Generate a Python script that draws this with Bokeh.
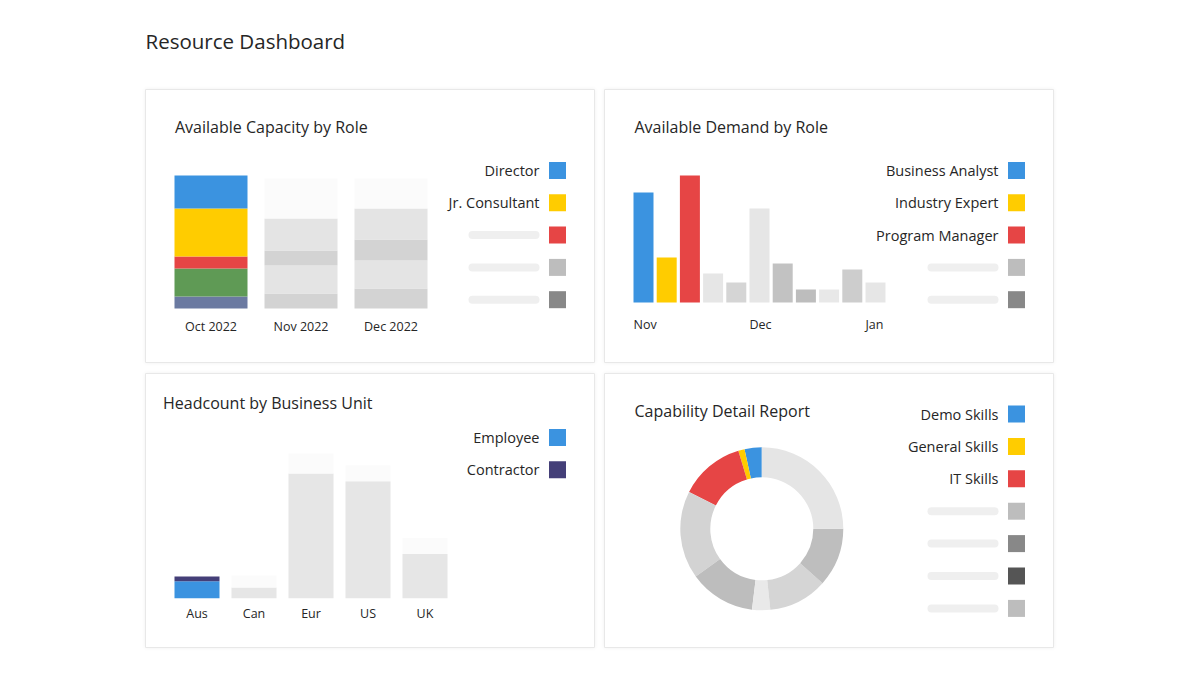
import numpy as np
from bokeh.plotting import figure
from bokeh.models import Range1d, ColumnDataSource
from bokeh.layouts import column, row
from bokeh.embed import file_html
from bokeh.resources import INLINE
from bokeh.core.properties import value

FONT = "Open Sans"
TXT = "#262626"

# ------------------------------------------------------------------ data
page_title = "Resource Dashboard"

# Card 1 - Available Capacity by Role (stack order bottom -> top)
cap_title = "Available Capacity by Role"
cap_months = ["Oct 2022", "Nov 2022", "Dec 2022"]
cap_role5 = [12, 15, 20]
cap_role4 = [28, 28, 28]
cap_role3 = [12, 15, 21]
cap_jr_consultant = [48, 32, 31]
cap_director = [33, 40, 30]
cap_active_colors = ["#6b7aa1", "#5f9a55", "#e64545", "#ffcc00", "#3b93e0"]
cap_faded_colors = ["#d3d3d3", "#e4e4e4", "#d3d3d3", "#e4e4e4", "#fbfbfb"]
cap_highlight = [True, False, False]
cap_legend_labels = ["Director", "Jr. Consultant", "", "", ""]
cap_legend_colors = ["#3b93e0", "#ffcc00", "#e64545", "#bdbdbd", "#888888"]

# Card 2 - Available Demand by Role (weekly bars)
dem_title = "Available Demand by Role"
dem_values = [110, 45, 127, 29, 20, 94, 39, 13, 13, 33, 20]
dem_colors = ["#3b93e0", "#ffcc00", "#e64545", "#e6e6e6", "#d5d5d5", "#e6e6e6",
              "#c2c2c2", "#bdbdbd", "#e8e8e8", "#cdcdcd", "#e6e6e6"]
dem_tick_index = [0, 5, 10]
dem_tick_labels = ["Nov", "Dec", "Jan"]
dem_legend_labels = ["Business Analyst", "Industry Expert", "Program Manager", "", ""]
dem_legend_colors = ["#3b93e0", "#ffcc00", "#e64545", "#bdbdbd", "#888888"]

# Card 3 - Headcount by Business Unit
hc_title = "Headcount by Business Unit"
hc_units = ["Aus", "Can", "Eur", "US", "UK"]
hc_employee = [17, 10.7, 124.6, 117, 44.3]
hc_contractor = [4.7, 12, 20, 16, 16]
hc_highlight = [True, False, False, False, False]
hc_legend_labels = ["Employee", "Contractor"]
hc_legend_colors = ["#3b93e0", "#443f78"]

# Card 4 - Capability Detail Report (donut, anticlockwise from 12 o'clock)
cdr_title = "Capability Detail Report"
cdr_shares = [3.4, 1.25, 12.9, 17.4, 13.1, 3.6, 11.7, 11.6, 25.0]
cdr_colors = ["#3b93e0", "#ffcc00", "#e64545", "#d3d3d3", "#bdbdbd",
              "#e9e9e9", "#d5d5d5", "#bebebe", "#e5e5e5"]
cdr_legend_labels = ["Demo Skills", "General Skills", "IT Skills", "", "", "", ""]
cdr_legend_colors = ["#3b93e0", "#ffcc00", "#e64545", "#bdbdbd", "#888888", "#555555", "#bdbdbd"]


# ------------------------------------------------------------------ helpers
def card(w, h, xr, yr):
    p = figure(width=w, height=h, x_range=xr, y_range=yr, output_backend="svg",
               toolbar_location=None, x_axis_type=None, y_axis_type=None,
               min_border=0, background_fill_color="white", border_fill_color="white",
               outline_line_color="#e8e8e8", outline_line_width=1,
               styles={"box-shadow": "0 0 4px rgba(0,0,0,0.06)"})
    p.xgrid.visible = False
    p.ygrid.visible = False
    p.extra_x_ranges = {"px": Range1d(0, w)}
    p.extra_y_ranges = {"px": Range1d(h, 0)}
    return p


def add_text(p, x, y, txt, size, align="left", xr="px", yr="px"):
    p.text(x=x, y=y, text=txt, x_range_name=xr, y_range_name=yr,
           text_font=value(FONT), text_font_size=size, text_color=TXT,
           text_align=align, text_baseline="middle")


def add_legend(p, labels, colors, y0, step, right=394, sw_x=412, sw=17, pill_w=71):
    ys = [y0 + i * step for i in range(len(labels))]
    named = [i for i, l in enumerate(labels) if l]
    blank = [i for i, l in enumerate(labels) if not l]
    if named:
        add_text(p, [right] * len(named), [ys[i] for i in named],
                 [labels[i] for i in named], "14.5px", align="right")
    if blank:
        p.segment(x0=[right - pill_w + 4] * len(blank), x1=[right - 4] * len(blank),
                  y0=[ys[i] for i in blank], y1=[ys[i] for i in blank],
                  line_width=8, line_cap="round", line_color="#efefef",
                  x_range_name="px", y_range_name="px")
    p.rect(x=[sw_x] * len(labels), y=ys, width=sw, height=sw, fill_color=colors,
           line_color=None, x_range_name="px", y_range_name="px")


# ------------------------------------------------------------------ title strip
tp = figure(width=909, height=79, x_range=Range1d(0, 909), y_range=Range1d(79, 0),
            output_backend="svg", toolbar_location=None, x_axis_type=None, y_axis_type=None,
            min_border=0, outline_line_color=None)
tp.xgrid.visible = False
tp.ygrid.visible = False
tp.text(x=[0], y=[40.5], text=[page_title], text_font=value(FONT), text_font_size="20.5px",
        text_color=TXT, text_align="left", text_baseline="middle")

# ------------------------------------------------------------------ card 1
W, H1, H2 = 450, 274, 275
l1, s1, base1 = 65.5, 90.0, 55
p1 = card(W, H1, Range1d(-l1 / s1, (W - l1) / s1), Range1d(-base1, H1 - base1))
stack = [cap_role5, cap_role4, cap_role3, cap_jr_consultant, cap_director]
xs, bots, tops, cols = [], [], [], []
for m in range(len(cap_months)):
    acc = 0
    for k, series in enumerate(stack):
        xs.append(m)
        bots.append(acc)
        acc += series[m]
        tops.append(acc)
        cols.append(cap_active_colors[k] if cap_highlight[m] else cap_faded_colors[k])
p1.vbar(x=xs, bottom=bots, top=tops, width=73 / s1, fill_color=cols, line_color=None)
add_text(p1, list(range(len(cap_months))), [237] * len(cap_months), cap_months, "12.5px",
         align="center", xr="default")
add_text(p1, [29.5], [37], [cap_title], "16px")
add_legend(p1, cap_legend_labels, cap_legend_colors, 81, 32.3)

# ------------------------------------------------------------------ card 2
l2, s2, base2 = 39.0, 23.2, 61
p2 = card(W, H1, Range1d(-l2 / s2, (W - l2) / s2), Range1d(-base2, H1 - base2))
bw2 = 20 / s2
p2.vbar(x=list(range(len(dem_values))), top=dem_values, width=bw2,
        fill_color=dem_colors, line_color=None)
add_text(p2, [i - bw2 / 2 for i in dem_tick_index], [234.5] * len(dem_tick_index),
         dem_tick_labels, "12.5px", align="left", xr="default")
add_text(p2, [30], [37], [dem_title], "16px")
add_legend(p2, dem_legend_labels, dem_legend_colors, 81, 32.3)

# ------------------------------------------------------------------ card 3
l3, s3, base3 = 51.5, 57.0, 50.3
p3 = card(W, H2, Range1d(-l3 / s3, (W - l3) / s3), Range1d(-base3, H2 - base3))
idx3 = list(range(len(hc_units)))
emp_col = ["#3b93e0" if h else "#e6e6e6" for h in hc_highlight]
con_col = ["#443f78" if h else "#fbfbfb" for h in hc_highlight]
p3.vbar(x=idx3, bottom=0, top=hc_employee, width=45 / s3, fill_color=emp_col, line_color=None)
p3.vbar(x=idx3, bottom=hc_employee, top=[e + c for e, c in zip(hc_employee, hc_contractor)],
        width=45 / s3, fill_color=con_col, line_color=None)
add_text(p3, idx3, [240] * len(idx3), hc_units, "12.5px", align="center", xr="default")
add_text(p3, [17.5], [29], [hc_title], "16px")
add_legend(p3, hc_legend_labels, hc_legend_colors, 64, 32.3)

# ------------------------------------------------------------------ card 4
p4 = card(W, H2, Range1d(0, W), Range1d(0, H2))
shares = np.array(cdr_shares, dtype=float)
frac = shares / shares.sum()
cum = np.concatenate([[0], np.cumsum(frac)])
start = np.pi / 2 + 2 * np.pi * cum[:-1]
end = np.pi / 2 + 2 * np.pi * cum[1:]
src4 = ColumnDataSource(dict(start=start, end=end, color=cdr_colors))
p4.annular_wedge(x=157.3, y=H2 - 155.3, inner_radius=51.5, outer_radius=81.5,
                 start_angle="start", end_angle="end", fill_color="color",
                 line_color=None, source=src4)
add_text(p4, [30], [37], [cdr_title], "16px")
add_legend(p4, cdr_legend_labels, cdr_legend_colors, 40.5, 32.4)

# ------------------------------------------------------------------ layout
layout = column(tp, row(p1, p2, spacing=9), row(p3, p4, spacing=9), spacing=10,
                margin=(0, 0, 0, 145))

with open("out.html", "w") as f:
    f.write(file_html(layout, INLINE))
